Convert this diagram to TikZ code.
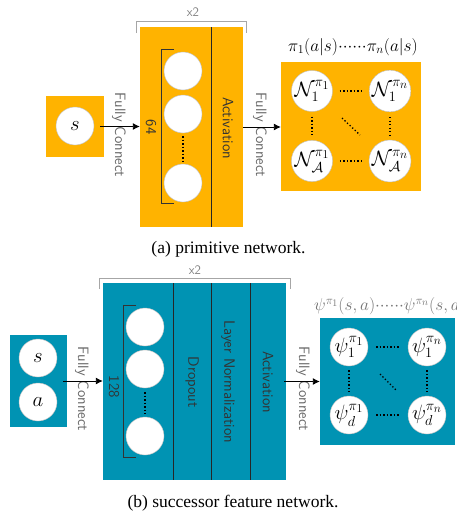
\documentclass[tikz,border=0pt]{standalone}
\usepackage{amsmath,amssymb}
\usepackage{fontspec}
\newfontfamily\capfont{Liberation Serif}
\usetikzlibrary{arrows.meta}
\definecolor{orng}{RGB}{255,179,0}
\definecolor{tealb}{RGB}{0,147,179}
\newcommand{\sixdots}{{\cdot}{\cdot}{\cdot}{\cdot}{\cdot}{\cdot}}
\begin{document}
\begin{tikzpicture}[x=1pt,y=-1pt,
  ofill/.style={fill=orng,draw=none,inner sep=0pt},
  bfill/.style={fill=tealb,draw=none,inner sep=0pt},
  unit/.style={circle,fill=white,draw=black!25,line width=0.4pt,minimum size=38pt,inner sep=0pt,font=\huge},
  lbl/.style={rotate=-90,font=\sffamily\fontsize{15}{18}\selectfont,text=black!80,inner sep=0pt},
  fc/.style={rotate=-90,font=\sffamily\fontsize{15}{18}\selectfont,text=black!60,inner sep=0pt},
  arr/.style={line width=0.9pt,-{Latex[length=7pt,width=7pt]}},
  sep/.style={line width=0.5pt,draw=black!85},
  brk/.style={line width=0.6pt,draw=black!80},
  gbrk/.style={line width=0.5pt,draw=black!35},
  xtwo/.style={font=\sffamily\fontsize{13}{15}\selectfont,text=black!50,inner sep=0pt},
  dotline/.style={line width=1.3pt,dash pattern=on 1.3pt off 2.2pt},
  captxt/.style={font=\capfont\fontsize{17.5}{20}\selectfont,inner sep=0pt}
]
\useasboundingbox (0,0) rectangle (456,514);

% ---------- (a) primitive network ----------
\node[ofill,minimum width=58pt,minimum height=61pt] (sboxA) at (75,126.5) {};
\node[unit] (sA) at (75,126) {$s$};

\node[ofill,minimum width=103pt,minimum height=200pt] (hidA) at (191.5,127) {};
\draw[sep] (211,27) -- (211,227);
\draw[gbrk] (136,33) -- (136,21) -- (246,21) -- (246,33);
\node[xtwo] (x2A) at (193,12) {x2};
\draw[brk] (174,49) -- (161,49) -- (161,203) -- (174,203);
\node[lbl] (n64) at (151,127) {64};
\node[unit] (hA1) at (183,71) {};
\node[unit] (hA2) at (183,114) {};
\node[unit] (hA3) at (183,183) {};
\draw[dotline] ([yshift=-3pt]hA2.south) -- ([yshift=3pt]hA3.north);
\node[lbl] (actA) at (228,128) {Activation};

\node[ofill,minimum width=140pt,minimum height=129pt] (outA) at (351,126.5) {};
\node[unit] (oA11) at (312,91) {$\mathcal{N}_1^{\pi_1}$};
\node[unit] (oA12) at (390,91) {$\mathcal{N}_1^{\pi_n}$};
\node[unit] (oA21) at (312,161) {$\mathcal{N}_{\mathcal{A}}^{\pi_1}$};
\node[unit] (oA22) at (390,161) {$\mathcal{N}_{\mathcal{A}}^{\pi_n}$};
\draw[dotline] ([xshift=7pt]oA11.east) -- ([xshift=-7pt]oA12.west);
\draw[dotline] ([xshift=7pt]oA21.east) -- ([xshift=-7pt]oA22.west);
\draw[dotline] ([yshift=-5pt]oA11.south) -- ([yshift=5pt]oA21.north);
\draw[dotline] ([yshift=-5pt]oA12.south) -- ([yshift=5pt]oA22.north);
\draw[dotline] (342,118) -- (360,135);
\node[font=\LARGE,inner sep=0pt] (piA) at (353,47) {$\pi_1(a|s)\sixdots\pi_n(a|s)$};

\node[fc] (fcA1) at (119,135) {Fully Connect};
\node[fc] (fcA2) at (260,135) {Fully Connect};
\draw[arr] ([xshift=-4pt]sboxA.east) -- (sboxA.east -| hidA.west);
\draw[arr] (hidA.east) -- (hidA.east -| outA.west);

\node[captxt] (capA) at (228.5,249) {(a) primitive network.};

% ---------- (b) successor feature network ----------
\node[bfill,minimum width=57pt,minimum height=92pt] (inB) at (38.5,381) {};
\node[unit] (sB) at (38,358) {$s$};
\node[unit] (aB) at (38,402) {$a$};

\node[bfill,minimum width=183pt,minimum height=197pt] (hidB) at (194.5,381.5) {};
\draw[sep] (173,283) -- (173,480);
\draw[sep] (211,283) -- (211,480);
\draw[sep] (250,283) -- (250,480);
\draw[gbrk] (99,289) -- (99,278) -- (290,278) -- (290,289);
\node[xtwo] (x2B) at (195,270) {x2};
\draw[brk] (136,305) -- (123,305) -- (123,457) -- (136,457);
\node[lbl] (n128) at (114,387) {128};
\node[unit] (hB1) at (145,327) {};
\node[unit] (hB2) at (145,369) {};
\node[unit] (hB3) at (145,436) {};
\draw[dotline] ([yshift=-4pt]hB2.south) -- ([yshift=3pt]hB3.north);
\node[lbl] (drop) at (192,382) {Dropout};
\node[lbl] (lnorm) at (228,382) {Layer Normalization};
\node[lbl] (actB) at (268,382) {Activation};

\node[bfill,minimum width=135pt,minimum height=127pt] (outB) at (387.5,381.5) {};
\node[unit] (oB11) at (349,347) {$\psi_1^{\pi_1}$};
\node[unit] (oB12) at (427,347) {$\psi_1^{\pi_n}$};
\node[unit] (oB21) at (349,415) {$\psi_d^{\pi_1}$};
\node[unit] (oB22) at (427,415) {$\psi_d^{\pi_n}$};
\draw[dotline] ([xshift=8pt]oB11.east) -- ([xshift=-8pt]oB12.west);
\draw[dotline] ([xshift=8pt]oB21.east) -- ([xshift=-8pt]oB22.west);
\draw[dotline] ([yshift=-4pt]oB11.south) -- ([yshift=4pt]oB21.north);
\draw[dotline] ([yshift=-4pt]oB12.south) -- ([yshift=4pt]oB22.north);
\draw[dotline] (380,374) -- (397,391);
\node[font=\LARGE,text=black!55,inner sep=0pt,anchor=west] (psiB) at (314,306) {$\psi^{\pi_1}(s,a)\sixdots\psi^{\pi_n}(s,a)$};

\node[fc] (fcB1) at (82,389) {Fully Connect};
\node[fc] (fcB2) at (303,389) {Fully Connect};
\draw[arr] ([xshift=-4pt]inB.east) -- (inB.east -| hidB.west);
\draw[arr] ([xshift=-2pt]hidB.east) -- (hidB.east -| outB.west);

\node[captxt] (capB) at (233,503) {(b) successor feature network.};
\end{tikzpicture}
\end{document}
